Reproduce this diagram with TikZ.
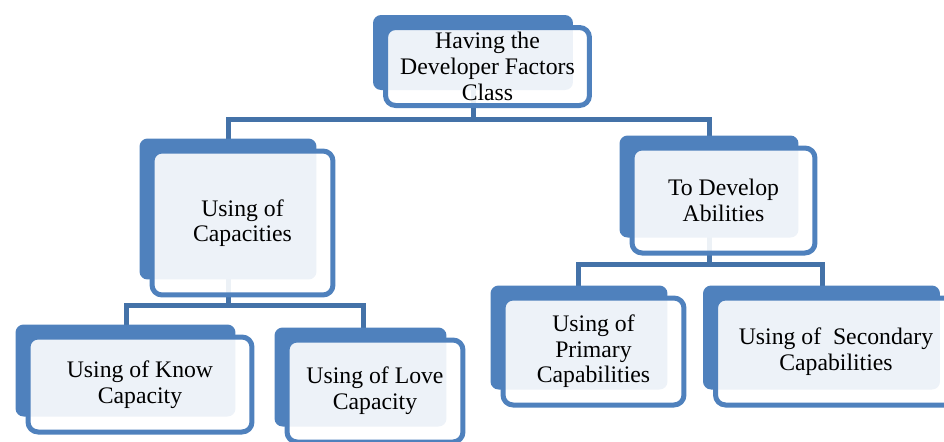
\documentclass[tikz,border=0pt]{standalone}
\usepackage{fontspec}
\setmainfont{Liberation Serif}
\usetikzlibrary{positioning}
\definecolor{boxblue}{HTML}{4F81BD}
\definecolor{linkblue}{HTML}{4472A8}
\pgfdeclarelayer{links}
\pgfdeclarelayer{backs}
\pgfsetlayers{links,backs,main}
\tikzset{
  factor/.style={draw=boxblue, line width=0.1cm, fill=white, fill opacity=0.9,
    text opacity=1, rounded corners=0.2cm, align=center, inner sep=0pt,
    font=\fontsize{13.5}{14.6}\selectfont},
  backfill/.style={fill=boxblue, rounded corners=0.16cm},
  link/.style={draw=linkblue, line width=0.1cm}
}
\begin{document}
\begin{tikzpicture}[x=0.02cm, y=-0.02cm]
    \useasboundingbox (0,0) rectangle (944,441);
    \node[factor, minimum width=4.08cm, minimum height=1.56cm] (dev) at (487.5,66.5) {Having the\\Developer Factors\\Class};
    \node[factor, minimum width=3.62cm, minimum height=2.88cm] (cap) at (242.5,223) {Using of\\Capacities};
    \node[factor, minimum width=3.66cm, minimum height=2.1cm] (abil) at (723.5,200.5) {To Develop\\Abilities};
    \node[factor, minimum width=4.48cm, minimum height=1.9cm] (know) at (140,384.5) {Using of Know\\Capacity};
    \node[factor, minimum width=3.52cm, minimum height=2.04cm] (love) at (375,391) {Using of Love\\Capacity};
    \node[factor, minimum width=3.62cm, minimum height=2.14cm] (prim) at (593.5,351.5) {Using of\\Primary\\Capabilities};
    \node[factor, minimum width=4.82cm, minimum height=2.14cm] (sec) at (836,351.5) {Using of~~Secondary\\Capabilities};
    % blue plates behind the boxes
    \begin{pgfonlayer}{backs}
      \foreach \n in {dev,cap,abil,know,love,prim,sec}
        \fill[backfill] ([shift={(-10,-10)}]\n.north west) rectangle ([shift={(-19,-18)}]\n.south east);
    \end{pgfonlayer}
    % connectors
    \begin{pgfonlayer}{links}
      \draw[link] ([shift={(-14,0)}]dev.center) -- ([shift={(-14,11)}]dev.south) -| ([shift={(-14,0)}]cap.north);
      \draw[link] ([shift={(-14,11)}]dev.south) -| ([shift={(-14,0)}]abil.north);
      \draw[link] ([shift={(-14,0)}]cap.center) -- ([shift={(-14,8)}]cap.south) -| ([shift={(-14,0)}]know.north);
      \draw[link] ([shift={(-14,8)}]cap.south) -| ([shift={(-12,0)}]love.north);
      \draw[link] ([shift={(-14,0)}]abil.center) -- ([shift={(-14,9)}]abil.south) -| ([shift={(-15,0)}]prim.north);
      \draw[link] ([shift={(-14,9)}]abil.south) -| ([shift={(-14,0)}]sec.north);
    \end{pgfonlayer}
\end{tikzpicture}
\end{document}
